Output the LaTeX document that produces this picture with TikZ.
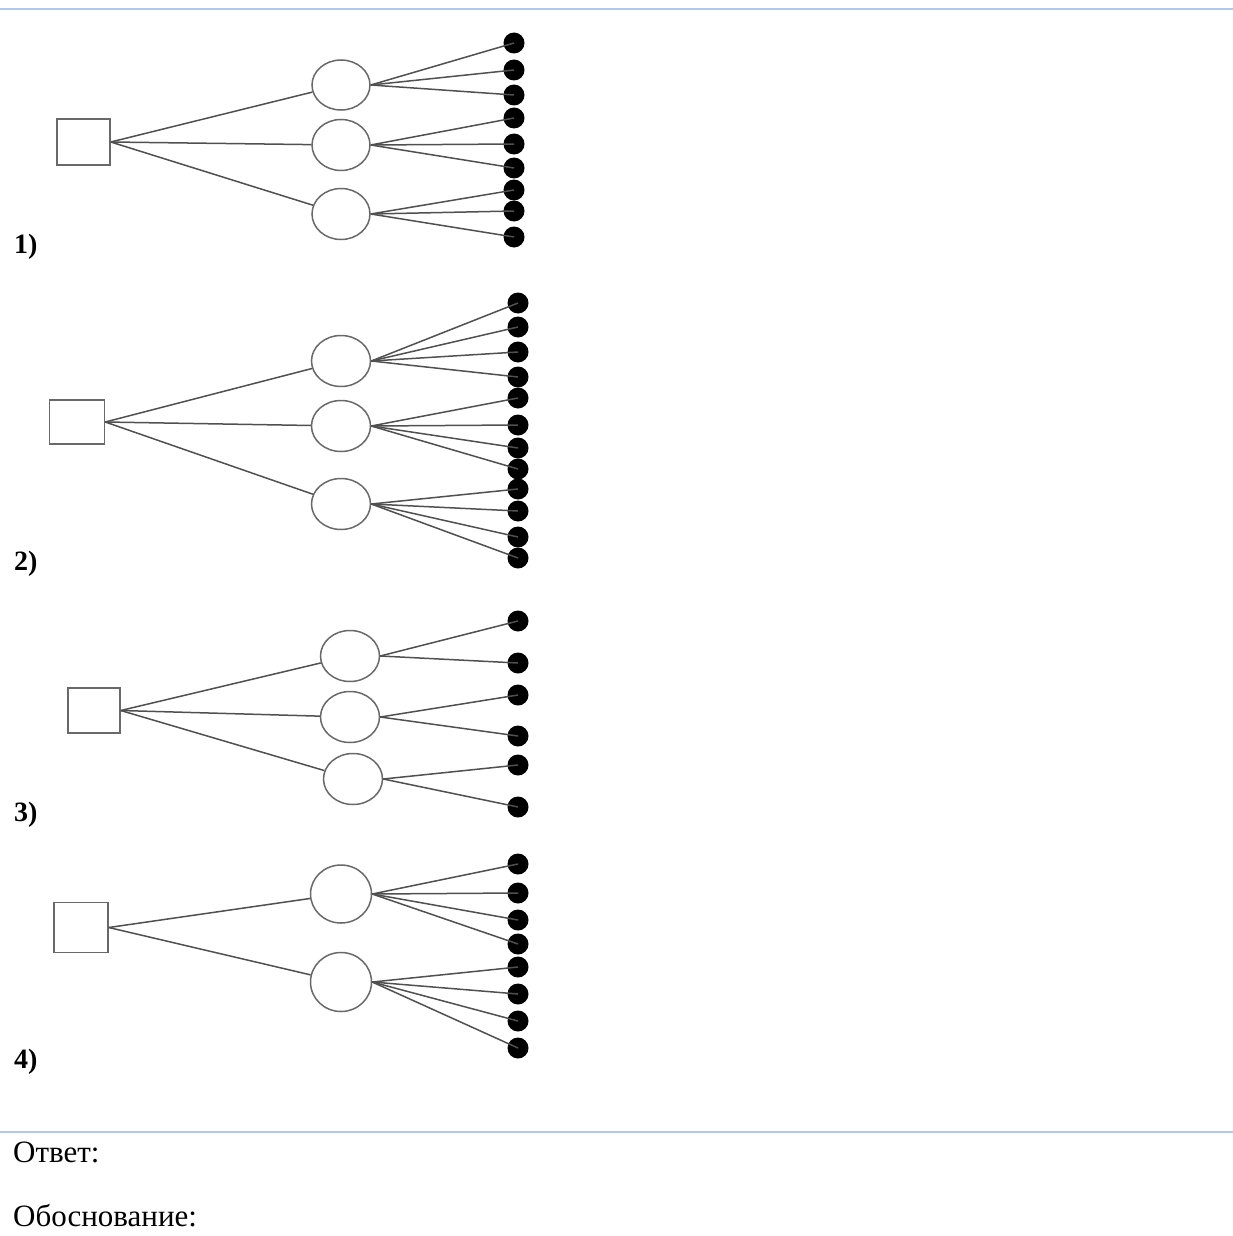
\documentclass[tikz,border=0pt]{standalone}
\usepackage{fontspec}
\setmainfont{Liberation Serif}
\usetikzlibrary{shapes.geometric}
\definecolor{rule}{RGB}{180,199,231}
\definecolor{edgegray}{RGB}{80,80,80}
\definecolor{shapegray}{RGB}{105,105,105}
\tikzset{
  sqbox/.style={draw=shapegray, line width=1.5pt, rectangle, inner sep=0pt},
  ovalnode/.style={draw=shapegray, line width=1.5pt, ellipse, inner sep=0pt, fill=white},
  leaf/.style={circle, fill=black, inner sep=0pt, minimum size=21pt},
  edge/.style={draw=edgegray, line width=1.5pt},
  numlabel/.style={anchor=west, inner sep=0pt, font=\fontsize{28}{30}\selectfont\bfseries},
  plaintext/.style={anchor=base west, inner sep=0pt, font=\fontsize{31}{34}\selectfont},
  rulestyle/.style={draw=rule, line width=2pt}
}
\begin{document}
\begin{tikzpicture}[x=1pt, y=-1pt]
\useasboundingbox (0,0) rectangle (1233,1236);
\fill[white] (0,0) rectangle (1233,1236);
% rules
\coordinate (rt1) at (0,9); \coordinate (rt2) at (1233,9);
\coordinate (rb1) at (0,1132); \coordinate (rb2) at (1233,1132);
\draw[rulestyle] (rt1) -- (rt2);
\draw[rulestyle] (rb1) -- (rb2);

% ---------- Diagram 1 ----------
\node[sqbox, minimum width=53pt, minimum height=46pt] (s1) at (83.5,142) {};
\node[ovalnode, minimum width=58pt, minimum height=50pt] (c11) at (341,85) {};
\node[ovalnode, minimum width=58pt, minimum height=51pt] (c12) at (341,145) {};
\node[ovalnode, minimum width=58pt, minimum height=51pt] (c13) at (341,214) {};
\foreach \i/\y in {1/43,2/70,3/95,4/118,5/144,6/168,7/190,8/211,9/237}
  \node[leaf] (d1\i) at (514,\y) {};
\foreach \c in {c11,c12,c13} \draw[edge] (s1.east) -- (\c);
\foreach \i in {1,2,3} \draw[edge] (c11.east) -- (d1\i.center);
\foreach \i in {4,5,6} \draw[edge] (c12.east) -- (d1\i.center);
\foreach \i in {7,8,9} \draw[edge] (c13.east) -- (d1\i.center);
\node[numlabel] (l1) at (14,247) {1)};

% ---------- Diagram 2 ----------
\node[sqbox, minimum width=55pt, minimum height=44pt] (s2) at (77,422) {};
\node[ovalnode, minimum width=59pt, minimum height=51pt] (c21) at (341,361) {};
\node[ovalnode, minimum width=59pt, minimum height=51pt] (c22) at (341,426) {};
\node[ovalnode, minimum width=59pt, minimum height=51pt] (c23) at (341,504) {};
\foreach \i/\y in {1/303,2/327,3/352,4/377,5/398,6/425,7/448,8/469,9/489,10/511,11/537,12/558}
  \node[leaf] (d2n\i) at (518,\y) {};
\foreach \c in {c21,c22,c23} \draw[edge] (s2.east) -- (\c);
\foreach \i in {1,2,3,4} \draw[edge] (c21.east) -- (d2n\i.center);
\foreach \i in {5,6,7,8} \draw[edge] (c22.east) -- (d2n\i.center);
\foreach \i in {9,10,11,12} \draw[edge] (c23.east) -- (d2n\i.center);
\node[numlabel] (l2) at (14,564) {2)};

% ---------- Diagram 3 ----------
\node[sqbox, minimum width=52pt, minimum height=45pt] (s3) at (94,710.5) {};
\node[ovalnode, minimum width=59pt, minimum height=51pt] (c31) at (350,656) {};
\node[ovalnode, minimum width=59pt, minimum height=51pt] (c32) at (350,717) {};
\node[ovalnode, minimum width=59pt, minimum height=51pt] (c33) at (353,779) {};
\foreach \i/\y in {1/621,2/663,3/695,4/736,5/765,6/807}
  \node[leaf] (d3n\i) at (518,\y) {};
\foreach \c in {c31,c32,c33} \draw[edge] (s3.east) -- (\c);
\foreach \i in {1,2} \draw[edge] (c31.east) -- (d3n\i.center);
\foreach \i in {3,4} \draw[edge] (c32.east) -- (d3n\i.center);
\foreach \i in {5,6} \draw[edge] (c33.east) -- (d3n\i.center);
\node[numlabel] (l3) at (14,815) {3)};

% ---------- Diagram 4 ----------
\node[sqbox, minimum width=54pt, minimum height=50pt] (s4) at (81,927.5) {};
\node[ovalnode, minimum width=61pt, minimum height=58pt] (c41) at (341,894) {};
\node[ovalnode, minimum width=61pt, minimum height=59pt] (c42) at (341,982) {};
\foreach \i/\y in {1/864,2/893,3/920,4/944,5/967,6/994,7/1021,8/1048}
  \node[leaf] (d4n\i) at (518,\y) {};
\foreach \c in {c41,c42} \draw[edge] (s4.east) -- (\c);
\foreach \i in {1,2,3,4} \draw[edge] (c41.east) -- (d4n\i.center);
\foreach \i in {5,6,7,8} \draw[edge] (c42.east) -- (d4n\i.center);
\node[numlabel] (l4) at (14,1062) {4)};

% ---------- Text ----------
\node[plaintext] (ans) at (13,1162) {Ответ:};
\node[plaintext] (just) at (13,1226) {Обоснование:};
\end{tikzpicture}
\end{document}
